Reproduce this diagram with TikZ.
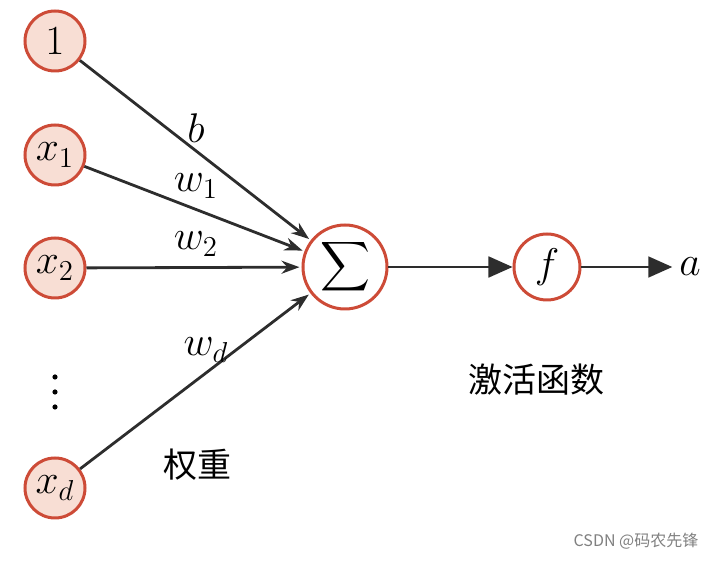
\documentclass[tikz,border=0pt]{standalone}
\usepackage{amsmath}
\usepackage{fontspec}
\newfontfamily\cjk{Noto Sans CJK SC}
\usetikzlibrary{arrows.meta, positioning}
\definecolor{nodefill}{RGB}{248,222,212}
\definecolor{nodeedge}{RGB}{205,75,55}
\definecolor{edgegray}{RGB}{45,45,45}
\begin{document}
\begin{tikzpicture}[
        x=0.5pt, y=-0.5pt,
        vertex/.style={draw=nodeedge, line width=1.5pt, circle, inner sep=0pt, font=\fontsize{21}{25}\selectfont},
        invertex/.style={vertex, fill=nodefill, minimum size=30pt},
        dot/.style={circle, fill=black, inner sep=0pt, minimum size=2.6pt},
        edge/.style={draw=edgegray, line width=1.4pt, -{Stealth[length=9pt,width=6.5pt]}, shorten >=1pt},
        outedge/.style={draw=edgegray, line width=0.9pt, -{Triangle[length=12pt,width=10.5pt]}},
        every node/.style={font=\fontsize{21}{25}\selectfont}
    ]
        \useasboundingbox (0,0) rectangle (720,561);

        \foreach \i/\y/\lab in {0/41/1, 1/155/x_1, 2/268/x_2, 3/488/x_d} {
            \node[invertex] (in\i) at (55,\y) {$\lab$};
        }
        \foreach \j/\y in {1/377, 2/392, 3/407} {
            \node[dot] (dot\j) at (55,\y) {};
        }

        \node[vertex, minimum size=42pt, font=\fontsize{19}{23}\selectfont] (sum) at (345,267) {$\displaystyle\sum$};
        \node[vertex, minimum size=33pt] (act) at (547,267) {$f$};
        \node (out) at (690,267) {$a$};

        \foreach \i in {0,1,2,3} {
            \draw[edge] (in\i) -- (sum);
        }
        \draw[outedge] (sum) -- (act);
        \draw[outedge] (act) -- (out);

        \node (wb) at (196,128) {$b$};
        \node (w1) at (196,186) {$w_1$};
        \node (w2) at (196,244) {$w_2$};
        \node (wd) at (206,350) {$w_d$};

        \node[font=\cjk\fontsize{17}{20}\selectfont] (weight) at (197,465) {权重};
        \node[font=\cjk\fontsize{17}{20}\selectfont] (actname) at (537,380) {激活函数};
        \node[font=\cjk\fontsize{8}{10}\selectfont, text=gray] (mark) at (636,541) {CSDN @码农先锋};
    \end{tikzpicture}
\end{document}
